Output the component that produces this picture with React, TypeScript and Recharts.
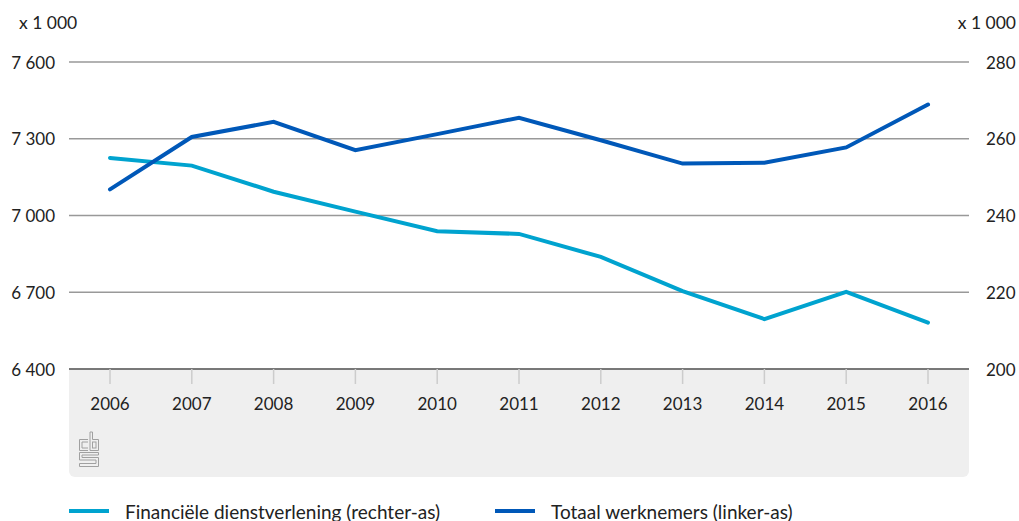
import React from 'react';
import { LineChart, Line, XAxis, YAxis, CartesianGrid } from 'recharts';

const years = ['2006', '2007', '2008', '2009', '2010', '2011', '2012', '2013', '2014', '2015', '2016'];
const totaalWerknemers = [7102, 7307, 7366, 7255, 7318, 7382, 7294, 7203, 7206, 7266, 7434];
const financieleDienstverlening = [255.0, 253.0, 246.2, 241.0, 235.9, 235.2, 229.2, 220.3, 213.0, 220.1, 212.1];

const leftTicks = [6400, 6700, 7000, 7300, 7600];
const leftTickLabels = ['6 400', '6 700', '7 000', '7 300', '7 600'];
const rightTicks = [200, 220, 240, 260, 280];
const rightTickLabels = ['200', '220', '240', '260', '280'];

const data = years.map((year, i) => ({
  year,
  totaal: totaalWerknemers[i],
  financieel: financieleDienstverlening[i],
}));

const LIGHT = '#00a3cf';
const DARK = '#0058b8';
const FONT = 'Lato, "Open Sans", sans-serif';

const LeftTick = (props: any) => {
  const i = leftTicks.indexOf(props.payload.value);
  return (
    <text x={55} y={props.y} textAnchor="end" dominantBaseline="central" fontSize={17} fill="#222" fontFamily={FONT}>
      {leftTickLabels[i]}
    </text>
  );
};

const RightTick = (props: any) => {
  const i = rightTicks.indexOf(props.payload.value);
  return (
    <text x={986} y={props.y} textAnchor="start" dominantBaseline="central" fontSize={17} fill="#222" fontFamily={FONT}>
      {rightTickLabels[i]}
    </text>
  );
};

const YearTick = (props: any) => (
  <text x={props.x} y={props.y} dy={17} textAnchor="middle" dominantBaseline="central" fontSize={17} fill="#222" fontFamily={FONT}>
    {props.payload.value}
  </text>
);

// rough cbs mark, double-line style
const CbsLogo = () => (
  <svg width={22} height={37} viewBox="0 0 22 37" style={{ position: 'absolute', left: 78, top: 431 }}>
    <g fill="none" stroke="#a0a0a0" strokeWidth={1}>
      <path d="M10 8.5 H1.5 V19.5 H10" />
      <path d="M10 11 H4 V17 H10" />
      <path d="M12 1 V19.5 H20.5 V8.5 H14.5 V1 Z" />
      <rect x={14.5} y={11} width={3.5} height={6} />
      <path d="M20.5 21.5 H1.5 V29 H18 V32.5 H1.5 V35.5 H20.5 V26.5 H4 V24 H20.5 Z" />
    </g>
  </svg>
);

const LegendItem = ({ color, label, left }: { color: string; label: string; left: number }) => (
  <div style={{ position: 'absolute', left, top: 499, height: 24, display: 'flex', alignItems: 'center' }}>
    <div style={{ width: 40, height: 4, background: color }} />
    <span style={{ marginLeft: 16, fontSize: 19, color: '#222', fontFamily: FONT, whiteSpace: 'nowrap' }}>{label}</span>
  </div>
);

export default function App() {
  return (
    <div style={{ position: 'absolute', left: 0, top: 0, width: 1019, height: 521, overflow: 'hidden', background: '#fff' }}>
      <div
        style={{
          position: 'absolute',
          left: 69,
          top: 369,
          width: 900,
          height: 108,
          background: '#efefef',
          borderRadius: '0 0 6px 6px',
        }}
      />
      <CbsLogo />
      <div style={{ position: 'absolute', left: 19, top: 12, fontSize: 17.5, color: '#222', fontFamily: FONT }}>x 1 000</div>
      <div style={{ position: 'absolute', right: 3, top: 12, fontSize: 17.5, color: '#222', fontFamily: FONT }}>x 1 000</div>
      <div style={{ position: 'absolute', left: 0, top: 0 }}>
        <LineChart width={1019} height={521} data={data} margin={{ top: 62, right: 0, bottom: 112, left: 9 }}>
          <CartesianGrid yAxisId="left" vertical={false} stroke="#999" strokeWidth={1.5} />
          <XAxis
            dataKey="year"
            height={40}
            padding={{ left: 41, right: 41 }}
            axisLine={{ stroke: '#666', strokeWidth: 1.5 }}
            tickLine={{ stroke: '#ccc', strokeWidth: 1.5 }}
            tickSize={15}
            tick={<YearTick />}
            interval={0}
          />
          <YAxis
            yAxisId="left"
            width={60}
            domain={[6400, 7600]}
            ticks={leftTicks}
            axisLine={false}
            tickLine={false}
            tick={<LeftTick />}
          />
          <YAxis
            yAxisId="right"
            orientation="right"
            width={50}
            domain={[200, 280]}
            ticks={rightTicks}
            axisLine={false}
            tickLine={false}
            tick={<RightTick />}
          />
          <Line
            yAxisId="right"
            dataKey="financieel"
            stroke={LIGHT}
            strokeWidth={4}
            dot={false}
            strokeLinecap="round"
            isAnimationActive={false}
          />
          <Line
            yAxisId="left"
            dataKey="totaal"
            stroke={DARK}
            strokeWidth={4}
            dot={false}
            strokeLinecap="round"
            isAnimationActive={false}
          />
        </LineChart>
      </div>
      <LegendItem color={LIGHT} label="Financiële dienstverlening (rechter-as)" left={69} />
      <LegendItem color={DARK} label="Totaal werknemers (linker-as)" left={495} />
    </div>
  );
}
